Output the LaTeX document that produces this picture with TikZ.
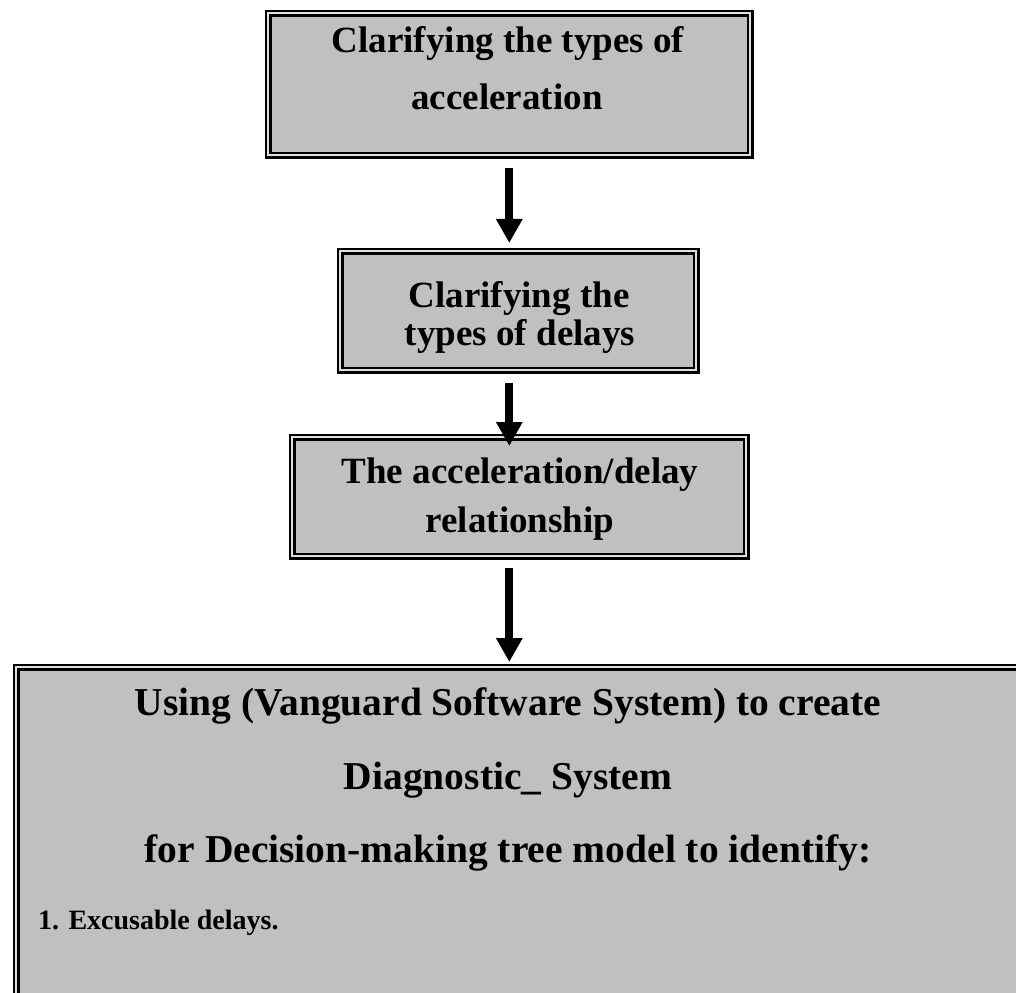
\documentclass[tikz,border=0pt]{standalone}
\usepackage{fontspec}
\setmainfont{Liberation Serif}
\usetikzlibrary{arrows.meta}
\definecolor{boxgray}{HTML}{C0C0C0}
\tikzset{
  dbox/.style={draw=black, line width=2.6pt, double=gray!25, double distance=2.2pt,
    fill=boxgray, inner sep=0pt, anchor=north west},
  hdr/.style={font=\bfseries\fontsize{37}{40}\selectfont, anchor=base, inner sep=0pt},
  hdrb/.style={font=\bfseries\fontsize{39.5}{42}\selectfont, anchor=base, inner sep=0pt},
  itm/.style={font=\bfseries\fontsize{28}{30}\selectfont, anchor=base west, inner sep=0pt},
  arr/.style={line width=8pt, -{Triangle[width=25pt,length=24pt]}}
}
\begin{document}
\begin{tikzpicture}[x=1pt,y=-1pt]
\useasboundingbox (0,0) rectangle (1016,992);
\clip (0,0) rectangle (1016,992);
% boxes (path centred in the double border)
\node[dbox, minimum width=482pt, minimum height=142pt] (b1) at (267,12) {};
\node[dbox, minimum width=356pt, minimum height=119pt] (b2) at (339,250) {};
\node[dbox, minimum width=454pt, minimum height=119pt] (b3) at (291,436) {};
\node[dbox, minimum width=1030pt, minimum height=360pt] (b4) at (15,666) {};
% texts
\node[hdr] (t1a) at (508,53) {Clarifying the types of};
\node[hdr] (t1b) at (507,110) {acceleration};
\node[hdr] (t2a) at (519,307) {Clarifying the};
\node[hdr] (t2b) at (520,345) {types of delays};
\node[hdr] (t3a) at (520,483) {The acceleration/delay};
\node[hdr] (t3b) at (520,532) {relationship};
\node[hdrb] (t4a) at (508,715) {Using (Vanguard Software System) to create};
\node[hdrb] (t4b) at (508,789) {Diagnostic\_ System};
\node[hdrb] (t4c) at (508,862) {for Decision-making tree model to identify:};
\node[itm] (t4d) at (38,929) {1. Excusable delays.};
% arrows
\coordinate (a1s) at ([yshift=-11pt]b1.south);
\coordinate (a1e) at ([yshift=7pt]b1.south |- b2.north);
\coordinate (a2s) at ([yshift=-11pt]b1.south |- b2.south);
\coordinate (a2e) at ([yshift=-10pt]b1.south |- b3.north);
\coordinate (a3s) at ([yshift=-10pt]b1.south |- b3.south);
\coordinate (a3e) at ([yshift=4pt]b1.south |- b4.north);
\draw[arr] (a1s) -- (a1e);
\draw[arr] (a2s) -- (a2e);
\draw[arr] (a3s) -- (a3e);
\end{tikzpicture}
\end{document}
